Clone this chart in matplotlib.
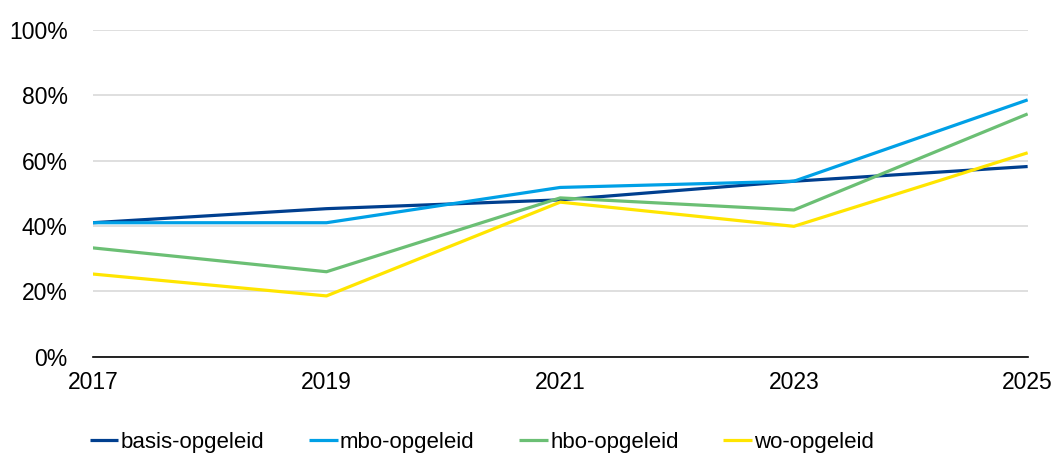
import matplotlib.pyplot as plt
from matplotlib.ticker import PercentFormatter

plt.rcParams['font.family'] = ['Liberation Sans', 'DejaVu Sans']

# data
years = [2017, 2019, 2021, 2023, 2025]
basis = [41.0, 45.3, 48.0, 53.7, 58.2]
mbo = [41.0, 41.0, 51.8, 53.7, 78.6]
hbo = [33.3, 26.0, 48.6, 44.9, 74.3]
wo = [25.3, 18.6, 47.3, 39.9, 62.4]

series = [
    ("basis-opgeleid", basis, "#003f8f"),
    ("mbo-opgeleid", mbo, "#00a0e6"),
    ("hbo-opgeleid", hbo, "#6bbf74"),
    ("wo-opgeleid", wo, "#ffe500"),
]

fig = plt.figure(figsize=(10.54, 4.53), dpi=100)
ax = fig.add_axes([0.088, 0.2126, 0.887, 0.7213])

for name, vals, col in series:
    ax.plot(years, vals, color=col, lw=2.3, label=name, solid_capstyle='butt')

ax.set_xlim(2017, 2025)
ax.set_ylim(0, 100)
ax.set_xticks(years)
ax.set_yticks(range(0, 101, 20))
ax.yaxis.set_major_formatter(PercentFormatter(decimals=0))
ax.grid(axis='y', color='#d9d9d9', lw=1.2)
ax.set_axisbelow(True)
for s in ['top', 'right', 'left']:
    ax.spines[s].set_visible(False)
ax.spines['bottom'].set_color('black')
ax.spines['bottom'].set_linewidth(1.2)
ax.tick_params(length=0, labelsize=16.5, colors='black')
ax.tick_params(axis='x', pad=10)
ax.tick_params(axis='y', pad=18)

fig.legend(loc='center left', bbox_to_anchor=(0.066, 0.024), ncol=4, frameon=False,
           fontsize=16, handlelength=1.3, handletextpad=0.1, columnspacing=2.0)

fig.savefig('out.png', dpi=100)
